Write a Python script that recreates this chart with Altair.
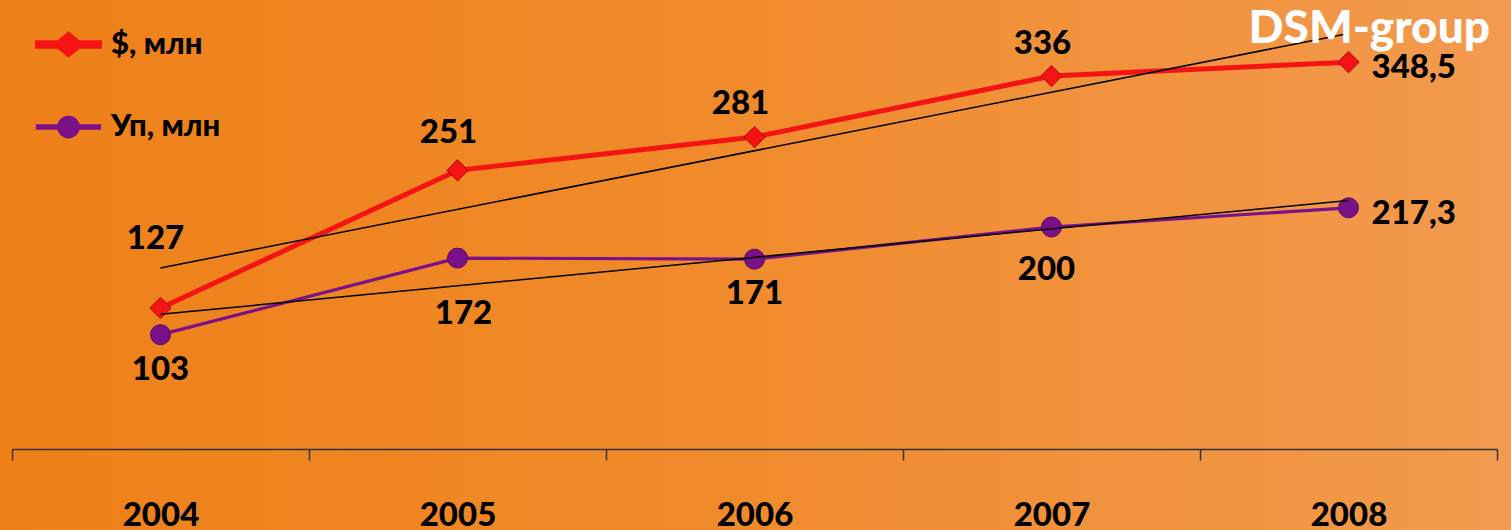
import altair as alt
import pandas as pd

years = [2004, 2005, 2006, 2007, 2008]
usd_values = [127, 251, 281, 336, 348.5]
packs_values = [103, 172, 171, 200, 217.3]
series_names = ["$, млн", "Уп, млн"]
series_colors = ["#F41414", "#7A1189"]
brand = "DSM-group"

rows = []
for y, v in zip(years, usd_values):
    rows.append({"year": y, "val": v, "series": series_names[0]})
for y, v in zip(years, packs_values):
    rows.append({"year": y, "val": v, "series": series_names[1]})
df = pd.DataFrame(rows)

FONT = "Lato"
W = 900
S0, S1 = series_names

x_enc = alt.X(
    "year:O",
    scale=alt.Scale(paddingInner=0, paddingOuter=0),
    axis=alt.Axis(
        title=None, labelAngle=0, tickBand="extent", tickSize=11,
        labelFontSize=33, labelFont=FONT, labelFontWeight=W,
        labelColor="#000000", labelPadding=39, domainColor="#333333",
        tickColor="#333333", domainWidth=1.5, tickWidth=1.5, grid=False,
        zindex=2,
    ),
)
y_enc = alt.Y("val:Q", scale=alt.Scale(domain=[0, 400], nice=False), axis=None)
color_scale = alt.Scale(domain=series_names, range=series_colors)

base = alt.Chart(df)

bg = alt.Chart(alt.Data(values=[{}])).mark_rect(
    color=alt.LinearGradient(
        gradient="linear",
        stops=[
            alt.GradientStop(color="#EE8018", offset=0),
            alt.GradientStop(color="#F08A2A", offset=0.45),
            alt.GradientStop(color="#F29A4E", offset=1),
        ],
        x1=0, x2=1, y1=0, y2=0,
    )
).encode(x=alt.value(-12), x2=alt.value(1499), y=alt.value(-5), y2=alt.value(525))

diamond_path = ("M-1,-0.06 L-0.32,-0.06 L0,-0.32 L0.32,-0.06 L1,-0.06 L1,0.06 "
                "L0.32,0.06 L0,0.32 L-0.32,0.06 L-1,0.06 Z")
circle_path = ("M-1,-0.04 L-0.317,-0.04 A0.32,0.32 0 0,1 0.317,-0.04 L1,-0.04 L1,0.04 "
               "L0.317,0.04 A0.32,0.32 0 0,1 -0.317,0.04 L-1,0.04 Z")

leg = dict(
    title=None, orient="none", legendX=23, legendY=6, symbolSize=3844,
    symbolStrokeWidth=0, symbolOpacity=1, labelFontSize=31, labelFont=FONT,
    labelFontWeight=W, labelColor="#000000", labelOffset=9,
    rowPadding=29, padding=0, labelLimit=300, zindex=2,
)

# tiny hidden markers that carry the legend (they sit under the real markers)
legend_layer = base.mark_point(filled=True, size=1).encode(
    x=x_enc, y=y_enc,
    color=alt.Color("series:N", scale=color_scale, legend=alt.Legend(**leg)),
    shape=alt.Shape("series:N", scale=alt.Scale(domain=series_names, range=[diamond_path, circle_path]),
                    legend=alt.Legend(**leg)),
)

lines = base.mark_line().encode(
    x=x_enc, y=y_enc,
    color=alt.Color("series:N", scale=color_scale, legend=None),
    strokeWidth=alt.StrokeWidth("series:N", scale=alt.Scale(domain=series_names, range=[5, 3.2]), legend=None),
)

pts_red = base.mark_point(shape="diamond", filled=True, size=450, opacity=1,
                          color=series_colors[0], stroke="#B50000", strokeWidth=1).encode(
    x=x_enc, y=y_enc).transform_filter(alt.datum.series == S0)
pts_purple = base.mark_point(shape="circle", filled=True, size=400, opacity=1,
                             color=series_colors[1], stroke="#5A0A66", strokeWidth=1).encode(
    x=x_enc, y=y_enc).transform_filter(alt.datum.series == S1)

trend = base.transform_regression("year", "val", groupby=["series"]).mark_line(
    color="#000000", strokeWidth=1.5
).encode(x=x_enc, y=y_enc, detail="series:N")


def labels(cond, dx=0, dy=0, align="center"):
    return base.transform_filter(cond).transform_calculate(
        lab="replace(toString(datum.val), '.', ',')"
    ).mark_text(font=FONT, fontWeight=W, fontSize=33, color="#000000",
                align=align, baseline="middle", dx=dx, dy=dy).encode(
        x=x_enc, y=y_enc, text="lab:N")


lab_layers = [
    labels(f"datum.series == '{S0}' && datum.year == 2005", dx=-9, dy=-37),
    labels(f"datum.series == '{S0}' && datum.year == 2006", dx=-14, dy=-33),
    labels(f"datum.series == '{S0}' && datum.year == 2007", dx=-9, dy=-32),
    labels(f"datum.series == '{S0}' && datum.year == 2004", dx=-5, dy=-69),
    labels("datum.year == 2008", dx=23, dy=6, align="left"),
    labels(f"datum.series == '{S1}' && (datum.year == 2004 || datum.year == 2006)", dx=0, dy=35),
    labels(f"datum.series == '{S1}' && datum.year == 2005", dx=6, dy=56),
    labels(f"datum.series == '{S1}' && datum.year == 2007", dx=-5, dy=43),
]

brand_text = alt.Chart(alt.Data(values=[{"t": brand}])).mark_text(
    font=FONT, fontWeight=W, fontSize=46, color="#FFFFFF", align="right",
    baseline="alphabetic").encode(x=alt.value(1478), y=alt.value(38), text="t:N")

chart = alt.layer(
    bg, legend_layer, lines, pts_red, pts_purple, trend, *lab_layers, brand_text
).properties(
    width=1485, height=444,
    autosize=alt.AutoSizeParams(type="none"),
    padding={"left": 12, "top": 5, "right": 14, "bottom": 81},
    background="#F08A2C",
).configure_view(stroke=None)

chart.save("out.html", embed_options={"renderer": "svg", "actions": False})
